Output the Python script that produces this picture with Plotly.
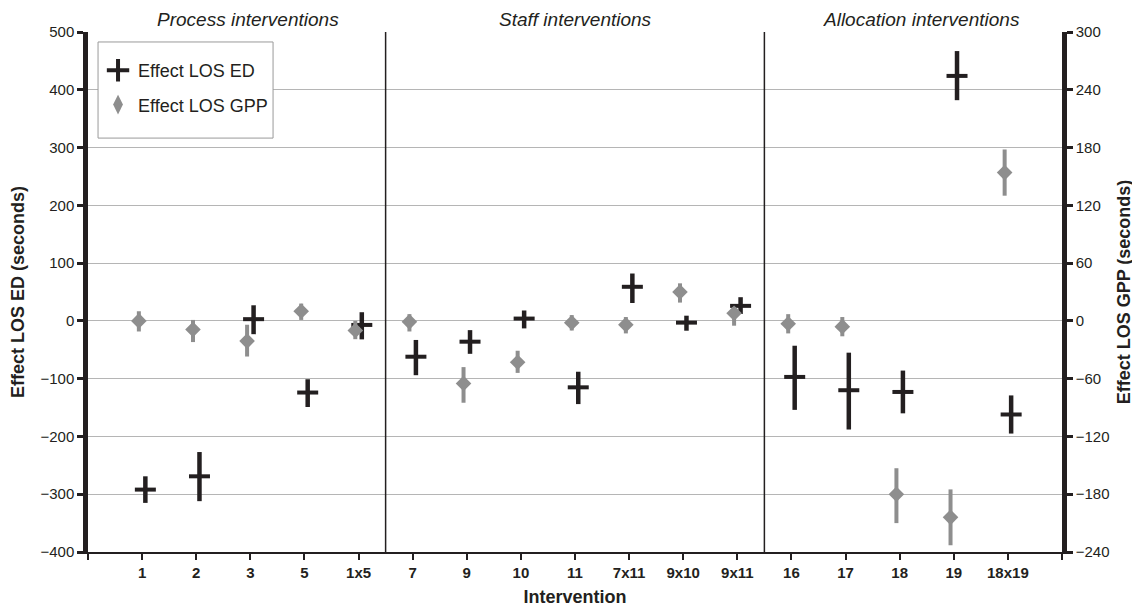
import plotly.graph_objects as go

# ---- data ----
categories = ["1", "2", "3", "5", "1x5",
              "7", "9", "10", "11", "7x11", "9x10", "9x11",
              "16", "17", "18", "19", "18x19"]
section_names = ["Process interventions", "Staff interventions", "Allocation interventions"]
section_sizes = [5, 7, 5]

# Effect LOS ED (seconds, left axis): mean, lower and upper bound
ed_mean = [-292, -269, 3, -124, -7, -62, -36, 4, -115, 59, -3, 26, -97, -120, -123, 424, -162]
ed_low = [-315, -312, -23, -149, -32, -94, -57, -13, -144, 31, -17, 12, -154, -188, -160, 382, -195]
ed_high = [-269, -227, 27, -101, 15, -33, -16, 18, -88, 82, 9, 41, -43, -55, -86, 467, -129]

# Effect LOS GPP (seconds, right axis): mean, lower and upper bound
gpp_mean = [0, -9, -21, 10, -10, -1, -65, -43, -2, -4, 30, 8, -3, -6, -180, -204, 154]
gpp_low = [-11, -22, -37, 1, -19, -11, -85, -54, -10, -13, 19, -5, -13, -16, -210, -233, 130]
gpp_high = [10, 1, -4, 18, 0, 7, -48, -31, 6, 4, 39, 14, 7, 4, -153, -175, 178]

left_ticks = [-400, -300, -200, -100, 0, 100, 200, 300, 400, 500]
right_ticks = [-240, -180, -120, -60, 0, 60, 120, 180, 240, 300]

# ---- derived positions ----
pos = list(range(1, len(categories) + 1))
ed_x = [p + 0.06 for p in pos]
gpp_x = [p - 0.06 for p in pos]

ED_COLOR = "#231f20"
GPP_COLOR = "#8e8e8e"
FONT = "Liberation Sans, Arial, Helvetica, sans-serif"

fig = go.Figure()

fig.add_trace(go.Scatter(
    x=ed_x, y=ed_mean, mode="markers", name="Effect LOS ED", showlegend=False,
    marker=dict(symbol="line-ew", size=15, color=ED_COLOR,
                line=dict(width=4, color=ED_COLOR)),
    error_y=dict(type="data", symmetric=False,
                 array=[h - m for h, m in zip(ed_high, ed_mean)],
                 arrayminus=[m - l for m, l in zip(ed_mean, ed_low)],
                 color=ED_COLOR, thickness=4.5, width=0),
    yaxis="y", cliponaxis=False,
))

fig.add_trace(go.Scatter(
    x=gpp_x, y=gpp_mean, mode="markers", name="Effect LOS GPP", showlegend=False,
    marker=dict(symbol="diamond", size=12, color=GPP_COLOR,
                line=dict(width=0)),
    error_y=dict(type="data", symmetric=False,
                 array=[h - m for h, m in zip(gpp_high, gpp_mean)],
                 arrayminus=[m - l for m, l in zip(gpp_mean, gpp_low)],
                 color=GPP_COLOR, thickness=4, width=0),
    yaxis="y2", cliponaxis=False,
))

# legend entries (cross-like symbols as in the original key)
fig.add_trace(go.Scatter(
    x=[None], y=[None], mode="markers", name="Effect LOS ED", legendgroup="ed",
    marker=dict(symbol="cross-thin", size=16, color=ED_COLOR,
                line=dict(width=4, color=ED_COLOR)),
))
fig.add_trace(go.Scatter(
    x=[None], y=[None], mode="markers", name="Effect LOS GPP", legendgroup="gpp",
    marker=dict(symbol="diamond-tall", size=14, color=GPP_COLOR,
                line=dict(width=0)),
))

# section dividers and titles
shapes = []
annotations = []
start = 0
for i, (name, size) in enumerate(zip(section_names, section_sizes)):
    end = start + size
    if i < len(section_sizes) - 1:
        shapes.append(dict(type="line", xref="x", yref="paper",
                           x0=end + 0.5, x1=end + 0.5, y0=0, y1=1,
                           line=dict(color=ED_COLOR, width=1.5)))
    if i == 0:
        center = (start + end) / 2 + 0.45
    elif i == len(section_sizes) - 1:
        center = (start + 0.5 + end + 1) / 2 + 0.15
    else:
        center = (start + 0.5 + end + 0.5) / 2
    annotations.append(dict(text="<i>" + name + "</i>", xref="x", yref="paper",
                            x=center, y=1.025, yanchor="middle", height=20,
                            showarrow=False,
                            font=dict(family=FONT, size=19, color=ED_COLOR)))
    start = end

# legend frame (white box with grey border, as in the original)
shapes.append(dict(type="rect", xref="paper", yref="paper",
                   x0=0.0103, x1=0.19, y0=0.796, y1=0.9808, layer="above",
                   fillcolor="white", line=dict(color="#9a9a9a", width=1)))

n = len(categories)
W, H = 1132, 601  # page body adds an 8px margin
fig.update_layout(
    width=W, height=H,
    margin=dict(l=80, r=78, t=24, b=57, autoexpand=False),
    paper_bgcolor="white", plot_bgcolor="white",
    font=dict(family=FONT, size=15, color=ED_COLOR),
    showlegend=True,
    legend=dict(x=0.0103, y=0.9615, xanchor="left", yanchor="top",
                borderwidth=0, bgcolor="rgba(0,0,0,0)",
                font=dict(family=FONT, size=18, color=ED_COLOR),
                itemwidth=30, tracegroupgap=8),
    xaxis=dict(
        range=[0, n + 1], automargin=False,
        tickvals=[0] + pos + [n + 1],
        ticktext=[""] + ["<b>%s</b>" % c for c in categories] + [""],
        ticks="outside", ticklen=6, tickwidth=1.5, tickcolor=ED_COLOR,
        showline=True, linecolor=ED_COLOR, linewidth=1.5,
        showgrid=False, zeroline=False,
        tickfont=dict(family=FONT, size=15, color=ED_COLOR),
        title=dict(text="<b>Intervention</b>", standoff=11,
                   font=dict(family=FONT, size=18, color=ED_COLOR)),
    ),
    yaxis=dict(
        range=[-400, 500], tickvals=left_ticks, automargin=False,
        ticks="outside", ticklen=6, tickwidth=3, tickcolor=ED_COLOR,
        showline=True, linecolor=ED_COLOR, linewidth=4.5,
        showgrid=True, gridcolor="#b5b5b5", gridwidth=1.3,
        zeroline=False,
        tickfont=dict(family=FONT, size=15, color=ED_COLOR),
        title=dict(text="<b>Effect LOS ED (seconds)</b>", standoff=14,
                   font=dict(family=FONT, size=18, color=ED_COLOR)),
    ),
    yaxis2=dict(
        range=[-240, 300], tickvals=right_ticks, automargin=False,
        overlaying="y", side="right", anchor="x",
        ticks="outside", ticklen=6, tickwidth=3, tickcolor=ED_COLOR,
        showline=True, linecolor=ED_COLOR, linewidth=4.5,
        showgrid=False, zeroline=False,
        tickfont=dict(family=FONT, size=15, color=ED_COLOR),
        title=dict(text="<b>Effect LOS GPP (seconds)</b>", standoff=10,
                   font=dict(family=FONT, size=18, color=ED_COLOR)),
    ),
    shapes=shapes,
    annotations=annotations,
)

fig.write_html("out.html")
